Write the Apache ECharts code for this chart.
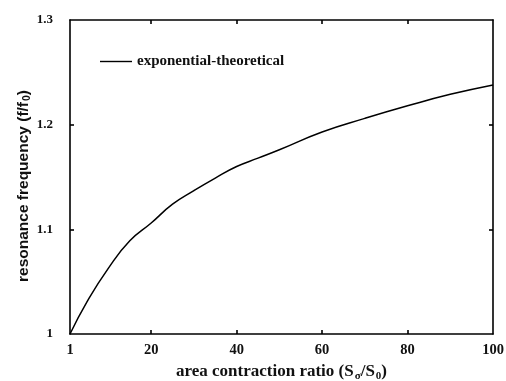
<!DOCTYPE html>
<html>
<head>
<meta charset="utf-8">
<script src="https://cdn.jsdelivr.net/npm/echarts@6/dist/echarts.min.js"></script>
<style>
  html, body { margin: 0; padding: 0; background: #fff; }
  #chart { width: 506px; height: 381px; }
</style>
</head>
<body>
<div id="chart"></div>
<script>
// area contraction ratio vs. resonance frequency
var ratio = [1, 5, 10, 15, 20, 25, 30, 35, 40, 45, 50, 60, 70, 80, 90, 100];
var freq = [1.000, 1.031, 1.063, 1.089, 1.106, 1.124, 1.137, 1.149, 1.160, 1.168, 1.176, 1.193, 1.206, 1.218, 1.229, 1.238];
var xTicks = [1, 20, 40, 60, 80, 100];
var yTicks = [1, 1.1, 1.2, 1.3];

var dom = document.getElementById("chart");
var myChart = echarts.init(dom);

var points = [];
for (let i = 0; i < ratio.length; i++) {
  points.push([ratio[i], freq[i]]);
}

var serif = "Liberation Serif";
var lineStyle = { color: "#000", width: 1.6 };

var option = {
  animation: false,
  backgroundColor: "#fff",
  grid: {
    left: 70,
    right: 13,
    top: 20,
    bottom: 47,
    outerBoundsMode: "none",
    containLabel: false,
  },
  legend: {
    data: ["exponential-theoretical"],
    left: 95,
    top: 49,
    icon: "rect",
    itemWidth: 32,
    itemHeight: 1.4,
    itemStyle: { color: "#000" },
    textStyle: {
      fontFamily: serif,
      fontSize: 15,
      fontWeight: "bold",
      color: "#111",
    },
  },
  xAxis: [
    {
      type: "value",
      min: 1,
      max: 100,
      name: "{t|area contraction ratio (S}{s|σ}{t|/S}{s|0}{t|)}",
      nameLocation: "middle",
      nameGap: 28,
      nameMoveOverlap: false,
      nameTextStyle: {
        rich: {
          t: { fontFamily: serif, fontSize: 17, fontWeight: "bold", color: "#111" },
          s: { fontFamily: serif, fontSize: 11, fontWeight: "bold", color: "#111", padding: [9, 0, 0, 1] },
        },
      },
      axisLine: { lineStyle: lineStyle },
      axisTick: { inside: true, length: 4, customValues: [20, 40, 60, 80], lineStyle: lineStyle },
      axisLabel: {
        customValues: xTicks,
        margin: 9,
        fontFamily: serif,
        fontSize: 14.5,
        fontWeight: "bold",
        color: "#111",
      },
      splitLine: { show: false },
    },
    {
      type: "value",
      position: "top",
      min: 1,
      max: 100,
      axisLine: { show: true, lineStyle: lineStyle },
      axisTick: { inside: true, length: 4, customValues: [20, 40, 60, 80], lineStyle: lineStyle },
      axisLabel: { show: false },
      splitLine: { show: false },
    },
  ],
  yAxis: [
    {
      type: "value",
      min: 1,
      max: 1.3,
      interval: 0.1,
      name: "{t|resonance frequency (f/f}{s|0}{t|)}",
      nameLocation: "middle",
      nameRotate: 90,
      nameGap: 37,
      nameMoveOverlap: false,
      nameTextStyle: {
        padding: [0, 18, 0, 0],
        rich: {
          t: { fontFamily: "Liberation Sans", fontSize: 15.5, fontWeight: "bold", color: "#111" },
          s: { fontFamily: "Liberation Sans", fontSize: 10.5, fontWeight: "bold", color: "#111", padding: [8, 0, 0, 1] },
        },
      },
      axisLine: { show: true, lineStyle: lineStyle },
      axisTick: { inside: true, length: 4, customValues: [1.1, 1.2], lineStyle: lineStyle },
      axisLabel: {
        customValues: yTicks,
        margin: 17,
        fontFamily: serif,
        fontSize: 13,
        fontWeight: "bold",
        color: "#111",
        formatter: function (v) {
          return String(Math.round(v * 10) / 10);
        },
      },
      splitLine: { show: false },
    },
    {
      type: "value",
      position: "right",
      min: 1,
      max: 1.3,
      interval: 0.1,
      axisLine: { show: true, lineStyle: lineStyle },
      axisTick: { inside: true, length: 4, customValues: [1.1, 1.2], lineStyle: lineStyle },
      axisLabel: { show: false },
      splitLine: { show: false },
    },
  ],
  series: [
    {
      name: "exponential-theoretical",
      type: "line",
      data: points,
      smooth: true,
      symbol: "none",
      lineStyle: { color: "#000", width: 1.5 },
      itemStyle: { color: "#000" },
    },
  ],
};

myChart.setOption(option);
</script>
</body>
</html>
